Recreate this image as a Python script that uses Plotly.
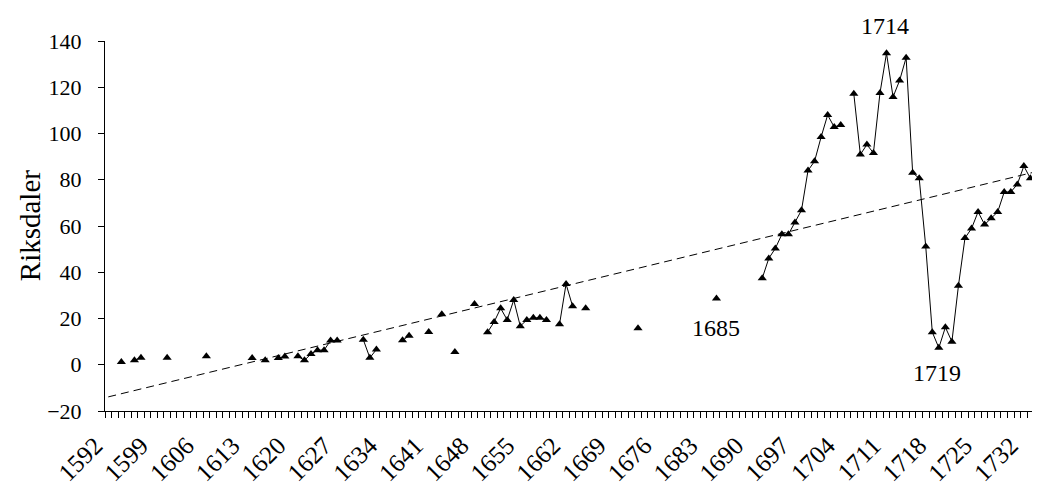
import numpy as np
import plotly.graph_objects as go

years = [1594, 1596, 1597, 1601, 1607, 1614, 1616, 1618, 1619, 1621, 1622, 1623, 1624, 1625,
         1626, 1627, 1631, 1632, 1633, 1637, 1638, 1641, 1643, 1645, 1648, 1650, 1651, 1652,
         1653, 1654, 1655, 1656, 1657, 1658, 1659, 1661, 1662, 1663, 1665, 1673, 1685, 1692,
         1693, 1694, 1695, 1696, 1697, 1698, 1699, 1700, 1701, 1702, 1703, 1704, 1706, 1707,
         1708, 1709, 1710, 1711, 1712, 1713, 1714, 1715, 1716, 1717, 1718, 1719, 1720, 1721,
         1722, 1723, 1724, 1725, 1726, 1727, 1728, 1729, 1730, 1731, 1732, 1733, 1734, 1735]
values = [1.2, 2.0, 3.0, 3.0, 3.7, 2.9, 2.0, 2.9, 3.6, 3.7, 1.9, 4.7, 6.3, 6.3,
          10.5, 10.5, 10.8, 3.0, 6.6, 10.6, 12.5, 14.2, 21.8, 5.5, 26.3, 14.1, 18.5, 24.4,
          19.4, 28.0, 16.7, 19.4, 20.3, 20.3, 19.4, 17.5, 34.9, 25.3, 24.4, 15.8, 28.7, 37.4,
          46.0, 50.3, 56.4, 56.4, 61.5, 66.8, 84.0, 88.0, 98.5, 108.0, 102.8, 103.7, 117.2, 90.9,
          95.2, 91.6, 117.5, 134.7, 115.8, 122.9, 132.8, 83.0, 80.6, 51.1, 14.1, 7.3, 16.2, 10.0,
          34.2, 54.8, 58.9, 66.1, 60.6, 63.4, 66.1, 74.7, 74.7, 78.0, 85.9, 80.6, 81.3, 55.0]

first_year = 1592
last_year = 1736
label_years = list(range(1592, 1733, 7))
label_text = [str(y) for y in label_years]

# Point labels: text, x (year), y (paper fraction of plot height)
annot_text = ["1685", "1714", "1719"]
annot_x = [1685, 1710.8, 1718.7]
annot_y = [0.225, 1.041, 0.104]

# Full yearly category range with gaps where no data exists
lookup = dict(zip(years, values))
all_years = list(range(first_year, last_year + 1))
series = [lookup.get(y) for y in all_years]

# Linear trend fitted on the observed points
slope, intercept = np.polyfit(years, values, 1)
trend = [slope * y + intercept for y in all_years]

FONT = "Liberation Serif, Times New Roman, serif"

fig = go.Figure()
fig.add_trace(go.Scatter(
    x=all_years, y=trend, mode="lines",
    line=dict(color="black", width=1, dash="8px,5px"),
    hoverinfo="skip", showlegend=False))
fig.add_trace(go.Scatter(
    x=all_years, y=series, mode="lines+markers", connectgaps=False,
    line=dict(color="black", width=1),
    marker=dict(symbol="triangle-up", size=8, color="black"),
    showlegend=False))

for t, ax, ay in zip(annot_text, annot_x, annot_y):
    fig.add_annotation(x=ax, y=ay, xref="x", yref="paper", text=t, showarrow=False,
                       font=dict(family=FONT, size=24, color="black"),
                       xanchor="center", yanchor="middle")

fig.add_annotation(xref="paper", yref="paper", x=-0.08, y=0.5, text="Riksdaler",
                   textangle=-90, showarrow=False,
                   font=dict(family=FONT, size=29, color="black"),
                   xanchor="center", yanchor="middle")

# The page body adds an 8 px offset, so the figure is sized to fill the window exactly
fig.update_layout(
    width=1032, height=479,
    margin=dict(l=97, r=0, t=33, b=76),
    paper_bgcolor="white", plot_bgcolor="white",
    font=dict(family=FONT, size=21, color="black"),
    showlegend=False,
    xaxis=dict(
        type="linear", range=[1591.5, 1734.47], automargin=False,
        tickmode="array", tickvals=label_years, ticktext=label_text,
        tickangle=-45, ticks="", showgrid=False, zeroline=False,
        showline=True, linecolor="black", linewidth=1,
        tickfont=dict(family=FONT, size=25, color="black"),
        ticklabelshift=-13, ticklabelstandoff=9,
        minor=dict(tickmode="linear", tick0=1591.5, dtick=1, ticks="outside",
                   ticklen=6, tickcolor="black", tickwidth=1, showgrid=False),
    ),
    yaxis=dict(
        range=[-20, 140], tickmode="linear", tick0=-20, dtick=20, automargin=False,
        ticks="outside", ticklen=6, tickcolor="black",
        showgrid=False, zeroline=False,
        showline=True, linecolor="black", linewidth=1,
        tickfont=dict(family=FONT, size=22, color="black"),
        ticklabelstandoff=12,
    ),
)

fig.write_html("out.html")
